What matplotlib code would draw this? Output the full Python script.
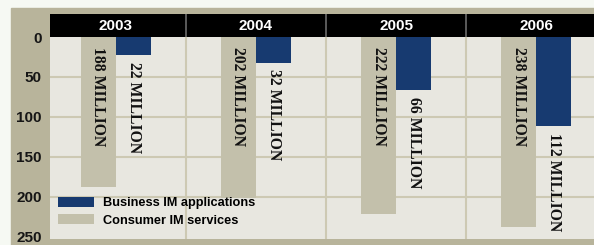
import matplotlib
matplotlib.use("Agg")
import matplotlib.pyplot as plt
import numpy as np
from matplotlib.patches import Rectangle, Patch

# data
years = ["2003", "2004", "2005", "2006"]
consumer = [188, 202, 222, 238]   # Consumer IM services, millions
business = [22, 32, 66, 112]      # Business IM applications, millions
yticks = [0, 50, 100, 150, 200, 250]

# colours
frame_col = "#b8b49b"
plot_bg = "#e8e7e0"
grid_col = "#cdc9b3"
cons_col = "#c3c0ab"
bus_col = "#173a70"

W, H = 594, 245
fig = plt.figure(figsize=(W / 100, H / 100), dpi=100)
fig.patch.set_facecolor("#f6f9f3")

# khaki frame behind everything
bg = fig.add_axes([0, 0, 1, 1], zorder=-5)
bg.set_axis_off()
bg.set_xlim(0, W)
bg.set_ylim(H, 0)
bg.add_patch(Rectangle((11, 8), W - 11, H - 8, color=frame_col))

x = np.arange(len(years))
xlim = (-0.471, 3.414)

# main plot area
ax = fig.add_axes([50 / W, 6 / H, 544 / W, 202 / H])
ax.set_facecolor(plot_bg)
ax.set_xlim(*xlim)
ax.set_ylim(253, 0)
for s in ax.spines.values():
    s.set_visible(False)

for v in yticks[1:-1]:
    ax.axhline(v, color=grid_col, lw=1.5, zorder=1)
for d in x[:-1] + 0.5:
    ax.axvline(d, color=grid_col, lw=1.5, zorder=1)

w = 0.25
ax.bar(x - 0.125, consumer, width=w, color=cons_col, zorder=2)
ax.bar(x + 0.128, business, width=w, color=bus_col, zorder=2)

lab_font = dict(family="Liberation Serif", fontweight="bold", fontsize=11.3,
                color="#111111", rotation=270, ha="center", va="top")
for xi, c, b in zip(x, consumer, business):
    ax.annotate(f"{c} MILLION", (xi - 0.125, 0), xytext=(0, -7),
                textcoords="offset points", zorder=3, **lab_font)
    ax.annotate(f"{b} MILLION", (xi + 0.128, b), xytext=(0, -5),
                textcoords="offset points", zorder=3, **lab_font)

ax.set_xticks([])
ax.set_yticks(yticks)
ax.set_yticklabels([str(t) for t in yticks], fontsize=11, fontweight="bold",
                   color="#161616", family="Liberation Sans")
ax.tick_params(axis="y", length=0, pad=6)

handles = [Patch(facecolor=bus_col, label="Business IM applications"),
           Patch(facecolor=cons_col, label="Consumer IM services")]
ax.legend(handles=handles, loc="lower left", bbox_to_anchor=(0.003, 0.03),
          frameon=False, borderpad=0, handlelength=2.8, handleheight=0.9,
          handletextpad=0.7, labelspacing=0.35,
          prop=dict(family="Liberation Sans", weight="bold", size=9.2))

# black year header
hx = fig.add_axes([50 / W, 208 / H, 544 / W, 23 / H])
hx.set_facecolor("black")
hx.set_xlim(*xlim)
hx.set_ylim(0, 1)
hx.set_xticks([])
hx.set_yticks([])
for s in hx.spines.values():
    s.set_visible(False)
for d in x[:-1] + 0.5:
    hx.axvline(d, color="#6a6a6a", lw=1.2)
for xi, yr in zip(x, years):
    hx.text(xi, 0.5, yr, color="white", fontweight="bold", fontsize=11,
            ha="center", va="center", family="Liberation Sans")

fig.savefig("out.png", dpi=100, facecolor=fig.get_facecolor())
